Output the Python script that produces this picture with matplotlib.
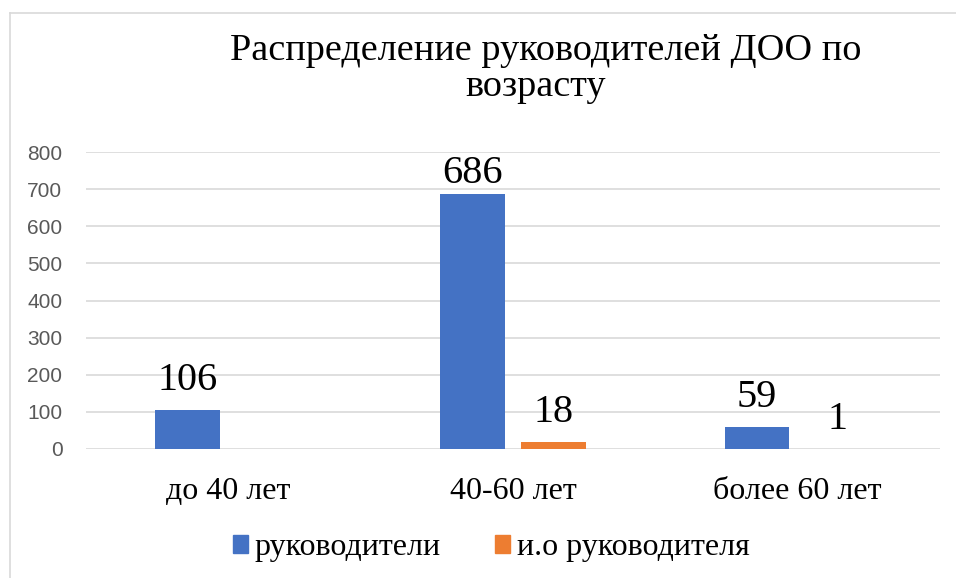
import matplotlib.pyplot as plt
import numpy as np
from matplotlib.lines import Line2D

categories = ['до 40 лет', '40-60 лет', 'более 60 лет']
leaders = [106, 686, 59]
acting = [None, 18, 1]
series_names = ['руководители', 'и.о руководителя']

blue = '#4472C4'
orange = '#ED7D31'
serif = 'Liberation Serif'

fig = plt.figure(figsize=(9.56, 5.78), dpi=100)
ax = fig.add_axes([0.090, 0.2232, 0.893, 0.5138])

x = np.arange(len(categories))
w = 0.228
off = 0.142

acting_vals = [v if v is not None else 0 for v in acting]
ax.bar(x - off, leaders, w, color=blue, zorder=3)
ax.bar(x + off, acting_vals, w, color=orange, zorder=3)

# data labels sit ~20px above the bar, kept inside the plot area
label_gap = 54
label_max = 716
for xi, v in zip(x, leaders):
    ax.text(xi - off, min(v + label_gap, label_max), str(v), ha='center',
            va='baseline', fontsize=29, family=serif)
for xi, v in zip(x, acting):
    if v is None:
        continue
    ax.text(xi + off, min(v + label_gap, label_max), str(v), ha='center',
            va='baseline', fontsize=29, family=serif)

ax.set_xlim(-0.5, 2.5)
ax.set_ylim(0, 800)
ax.set_yticks(range(0, 801, 100))
ax.yaxis.grid(True, color='#d9d9d9', linewidth=1.2, zorder=0)
for s in ax.spines.values():
    s.set_visible(False)
ax.tick_params(axis='both', length=0)
ax.tick_params(axis='y', labelsize=15, labelcolor='#595959', pad=17)
ax.set_xticks(x)
ax.set_xticklabels(categories, fontsize=23, family=serif)
ax.tick_params(axis='x', pad=20)
for t in ax.get_yticklabels():
    t.set_family('Liberation Sans')

fig.text(546 / 956, 1 - 60 / 578, 'Распределение руководителей ДОО по',
         ha='center', va='baseline', fontsize=27.5, family=serif)
fig.text(536 / 956, 1 - 96 / 578, 'возрасту',
         ha='center', va='baseline', fontsize=27.5, family=serif)

handles = [plt.Rectangle((0, 0), 1, 1, color=blue),
           plt.Rectangle((0, 0), 1, 1, color=orange)]
fig.legend(handles, series_names, loc='center', bbox_to_anchor=(0.514, 0.052),
           ncol=2, frameon=False, prop={'family': serif, 'size': 23},
           handlelength=0.47, handleheight=0.5, handletextpad=0.22,
           columnspacing=1.7)

# chart border (top and left visible)
fig.add_artist(Line2D([10 / 956, 1], [1 - 13 / 578, 1 - 13 / 578],
                      color='#d9d9d9', linewidth=1.2))
fig.add_artist(Line2D([10 / 956, 10 / 956], [0, 1 - 13 / 578],
                      color='#d9d9d9', linewidth=1.2))

fig.savefig('out.png')
plt.close(fig)
